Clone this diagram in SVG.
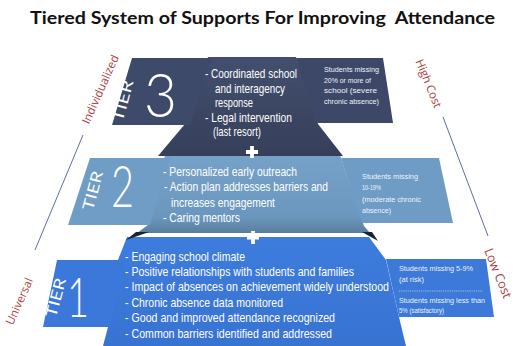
<svg xmlns="http://www.w3.org/2000/svg" width="516" height="346" viewBox="0 0 516 346">
<defs>
<style>
.title{font-family:Lato,"Liberation Sans",sans-serif;font-weight:bold;font-size:16.5px;fill:#111;white-space:pre}
.body{font-family:"Liberation Sans",Arial,sans-serif;font-size:12.5px;fill:#fff}
.b1{font-size:13px}
.small{font-family:"Liberation Sans",Arial,sans-serif;font-size:7.4px;fill:#eef3fb}
.tier{font-family:Lato,"Liberation Sans",sans-serif;font-size:15.5px;fill:#fff}
.num{font-family:Lato,"Liberation Sans",sans-serif;font-weight:300;fill:#fff}
.axis{font-family:"Open Sans","Liberation Sans",sans-serif;font-size:11.5px;fill:#b03a3a}
.line{stroke:#5d6fa0;stroke-width:1;fill:none}
.plus{stroke:#fff;stroke-width:3.8;fill:none}
.shadow{fill:#1b2236}
</style>
<linearGradient id="g3" x1="0" y1="0" x2="0" y2="1">
<stop offset="0" stop-color="#434f6e"/><stop offset="1" stop-color="#363f5a"/>
</linearGradient>
<linearGradient id="g2" x1="0" y1="0" x2="0" y2="1">
<stop offset="0" stop-color="#76a2ca"/><stop offset="0.8" stop-color="#6b97be"/><stop offset="1" stop-color="#5a7d9c"/>
</linearGradient>
<linearGradient id="g1" x1="0" y1="0" x2="0" y2="1">
<stop offset="0" stop-color="#3d7cdd"/><stop offset="1" stop-color="#3873d2"/>
</linearGradient>
</defs>
<rect width="516" height="346" fill="#fff"/>
<text id="title" class="title" x="30" y="24" xml:space="preserve" textLength="465" lengthAdjust="spacingAndGlyphs">Tiered System of Supports For Improving  Attendance</text>

<g id="connectors">
<line class="line" x1="83" y1="135" x2="35" y2="250"/>
<line class="line" x1="443" y1="117" x2="488" y2="236"/>
</g>

<g id="axis-labels">
<text class="axis" transform="translate(104,91) rotate(-66)" text-anchor="middle">Individualized</text>
<text class="axis" transform="translate(23,303) rotate(-66)" text-anchor="middle">Universal</text>
<text class="axis" transform="translate(425,85) rotate(68)" text-anchor="middle">High Cost</text>
<text class="axis" transform="translate(494,275) rotate(68)" text-anchor="middle" style="font-size:12.5px">Low Cost</text>
</g>

<g id="tier1">
<polygon points="127,237 369,237 386,260 399,317 406,346 103,346 108,327 118,260" fill="url(#g1)"/>
<polygon points="57,260 125,260 110,327 43,327" fill="#3b78d9"/>
<polygon points="386,259 486,259 494,317 399,317" fill="#3c79d9"/>
<text class="tier" transform="translate(61,299) rotate(-75)" text-anchor="middle" textLength="40" lengthAdjust="spacingAndGlyphs">TIER</text>
<text class="num" x="67" y="317" font-size="56" textLength="22" lengthAdjust="spacingAndGlyphs">1</text>
<g transform="scale(0.8,1)">
<text class="body b1" x="156.25" y="261" textLength="150" lengthAdjust="spacingAndGlyphs">- Engaging school climate</text>
<text class="body b1" x="156.25" y="276" textLength="286.25" lengthAdjust="spacingAndGlyphs">- Positive relationships with students and families</text>
<text class="body b1" x="156.25" y="291" textLength="330" lengthAdjust="spacingAndGlyphs">- Impact of absences on achievement widely understood</text>
<text class="body b1" x="156.25" y="307" textLength="197.5" lengthAdjust="spacingAndGlyphs">- Chronic absence data monitored</text>
<text class="body b1" x="156.25" y="322" textLength="262.5" lengthAdjust="spacingAndGlyphs">- Good and improved attendance recognized</text>
<text class="body b1" x="156.25" y="338" textLength="258.75" lengthAdjust="spacingAndGlyphs">- Common barriers identified and addressed</text>
<text class="small" x="498.75" y="271" textLength="92.5" lengthAdjust="spacingAndGlyphs">Students missing 5-9%</text>
<text class="small" x="498.75" y="282" textLength="31.25" lengthAdjust="spacingAndGlyphs">(at risk)</text>
<text class="small" x="498.75" y="303" textLength="107.5" lengthAdjust="spacingAndGlyphs">Students missing less than</text>
<text class="small" x="498.75" y="313" textLength="56.25" lengthAdjust="spacingAndGlyphs">5% (satisfactory)</text>
</g>
<line x1="399" y1="291" x2="483" y2="291" stroke="#d2def5" stroke-width="0.7" stroke-dasharray="1.2 1"/>
</g>

<g id="tier2">
<polygon points="165,155 340,155 364,226 370,233 137,233 148,225" fill="url(#g2)"/>
<polygon points="90,158 170,158 150,225 68,225" fill="#6f9dc5"/>
<polygon points="341,158 439,158 453,223 362,223" fill="#6e9cc4"/>
<polygon class="shadow" points="136,232 149,232 126,240"/>
<polygon class="shadow" points="362,232 372,232 378,241"/>
<text class="tier" transform="translate(98,192) rotate(-75)" text-anchor="middle" textLength="40" lengthAdjust="spacingAndGlyphs">TIER</text>
<text class="num" x="111" y="207" font-size="58" textLength="23" lengthAdjust="spacingAndGlyphs">2</text>
<g transform="scale(0.8,1)">
<text class="body" x="203.75" y="176" textLength="167.5" lengthAdjust="spacingAndGlyphs">- Personalized early outreach</text>
<text class="body" x="205" y="191" textLength="205" lengthAdjust="spacingAndGlyphs">- Action plan addresses barriers and</text>
<text class="body" x="213.75" y="207" textLength="130" lengthAdjust="spacingAndGlyphs">increases engagement</text>
<text class="body" x="203.75" y="222" textLength="96.25" lengthAdjust="spacingAndGlyphs">- Caring mentors</text>
<text class="small" x="452.5" y="179" textLength="70" lengthAdjust="spacingAndGlyphs">Students missing</text>
<text class="small" x="452.5" y="190" textLength="23.75" lengthAdjust="spacingAndGlyphs">10-19%</text>
<text class="small" x="452.5" y="202" textLength="73.75" lengthAdjust="spacingAndGlyphs">(moderate chronic</text>
<text class="small" x="452.5" y="213" textLength="36.25" lengthAdjust="spacingAndGlyphs">absence)</text>
</g>
<path class="plus" d="M253,231 V244 M247,237.5 H259"/>
</g>

<g id="tier3">
<polygon points="208,57 296,57 318,124 343,156 158,156 185,124" fill="url(#g3)"/>
<polygon points="132,58 212,58 190,125 112,125" fill="#3e4a69"/>
<polygon points="296,58 383,58 393,123 316,123" fill="#3d4868"/>
<text class="tier" transform="translate(128,102) rotate(-75)" text-anchor="middle" textLength="42" lengthAdjust="spacingAndGlyphs">TIER</text>
<text class="num" x="144" y="117" font-size="62" textLength="33" lengthAdjust="spacingAndGlyphs">3</text>
<g transform="scale(0.8,1)">
<text class="body" x="256.25" y="78" textLength="115" lengthAdjust="spacingAndGlyphs">- Coordinated school</text>
<text class="body" x="268.75" y="93" textLength="87.5" lengthAdjust="spacingAndGlyphs">and interagency</text>
<text class="body" x="268.75" y="107.5" textLength="47.5" lengthAdjust="spacingAndGlyphs">response</text>
<text class="body" x="256.25" y="122" textLength="108.75" lengthAdjust="spacingAndGlyphs">- Legal intervention</text>
<text class="body" x="266.25" y="136.5" textLength="60" lengthAdjust="spacingAndGlyphs">(last resort)</text>
<text class="small" x="405" y="72" textLength="68.75" lengthAdjust="spacingAndGlyphs">Students missing</text>
<text class="small" x="405" y="83" textLength="58.75" lengthAdjust="spacingAndGlyphs">20% or more of</text>
<text class="small" x="405" y="93" textLength="66.25" lengthAdjust="spacingAndGlyphs">school (severe</text>
<text class="small" x="405" y="104" textLength="68.75" lengthAdjust="spacingAndGlyphs">chronic absence)</text>
</g>
<path class="plus" d="M252,146 V158 M246,152 H258"/>
</g>
</svg>
